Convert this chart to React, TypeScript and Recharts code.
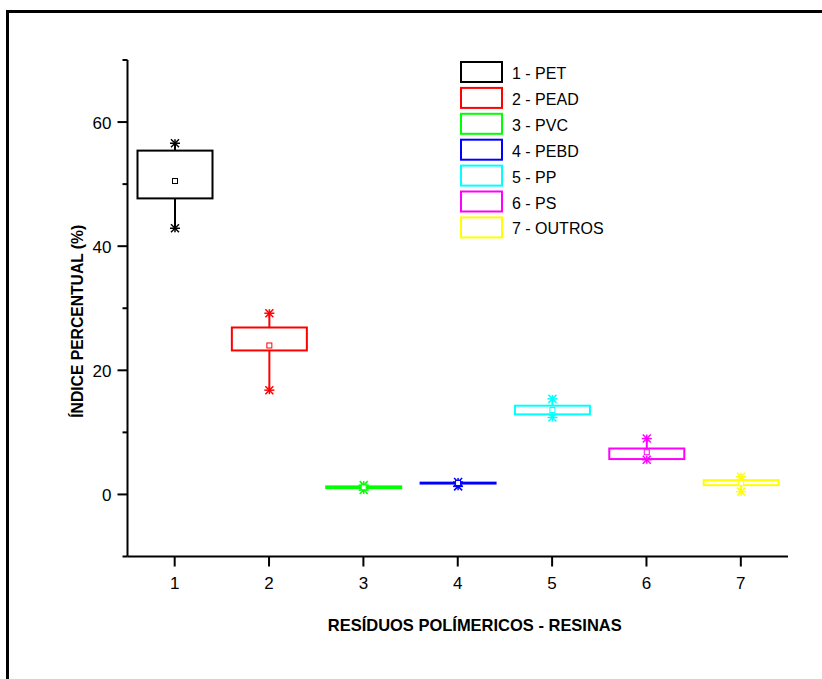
import { ComposedChart, Bar, XAxis, YAxis, Legend, Label } from "recharts";

// box plot statistics per resin class (percent)
const categories = ["1", "2", "3", "4", "5", "6", "7"];
const resinNames = ["1 - PET", "2 - PEAD", "3 - PVC", "4 - PEBD", "5 - PP", "6 - PS", "7 - OUTROS"];
const maxValues = [56.6, 29.2, 1.5, 2.0, 15.4, 9.0, 2.85];
const upperQuartiles = [55.4, 26.9, 1.3, 1.9, 14.3, 7.4, 2.3];
const meanValues = [50.5, 24.0, 1.15, 1.85, 13.6, 6.8, 1.8];
const lowerQuartiles = [47.7, 23.2, 1.0, 1.75, 12.9, 5.7, 1.5];
const minValues = [42.9, 16.8, 0.7, 1.3, 12.4, 5.6, 0.45];

const yTicks = [-10, 0, 10, 20, 30, 40, 50, 60, 70];
const yLabelled = [0, 20, 40, 60];

const colors = ["#000000", "#ff0000", "#00ff00", "#0000ff", "#00ffff", "#ff00ff", "#ffff00"];
const FONT = "'Liberation Sans', Arial, sans-serif";

const data = categories.map((cat, i) => ({
    cat,
    range: [minValues[i], maxValues[i]],
    q1: lowerQuartiles[i],
    q3: upperQuartiles[i],
    mean: meanValues[i],
}));

function Star({ cx, cy, color }: { cx: number, cy: number, color: string }) {
    return (
        <g stroke={color} strokeWidth={1.5}>
            <line x1={cx - 5} x2={cx + 5} y1={cy} y2={cy} />
            <line x1={cx - 4} x2={cx + 4} y1={cy - 4} y2={cy + 4} />
            <line x1={cx - 4} x2={cx + 4} y1={cy + 4} y2={cy - 4} />
            <line x1={cx} x2={cx} y1={cy - 4} y2={cy + 4} />
        </g>
    );
}

// the bar itself spans min..max, the rest is placed on that same scale
function BoxShape(props: any) {
    const { x, y, width, height, payload } = props;
    const color = colors[categories.indexOf(payload.cat)];
    const [lo, hi] = payload.range;
    const toPx = (v: number) => y + (height * (hi - v)) / (hi - lo);
    const cx = x + width / 2;
    const top = toPx(payload.q3);
    const bottom = toPx(payload.q1);
    const mean = toPx(payload.mean);
    const yMax = toPx(hi);
    const yMin = toPx(lo);
    return (
        <g>
            <line x1={cx} x2={cx} y1={yMax} y2={top} stroke={color} strokeWidth={2} />
            <line x1={cx} x2={cx} y1={bottom} y2={yMin} stroke={color} strokeWidth={2} />
            <rect x={x} y={top} width={width} height={bottom - top} fill="none" stroke={color} strokeWidth={2} />
            <Star cx={cx} cy={yMax} color={color} />
            <Star cx={cx} cy={yMin} color={color} />
            <rect x={cx - 2.5} y={mean - 2.5} width={5} height={5} fill="#fff" stroke={color} strokeWidth={1} />
        </g>
    );
}

function YTick(props: any) {
    const { x, y, payload } = props;
    const major = yLabelled.includes(payload.value);
    return (
        <g>
            <line x1={x} x2={x - (major ? 10 : 5)} y1={y} y2={y} stroke="#000" strokeWidth={2} />
            {major && (
                <text x={x - 16} y={y + 6.5} textAnchor="end" fontFamily={FONT} fontSize={17} fill="#000">
                    {payload.value}
                </text>
            )}
        </g>
    );
}

function XTick(props: any) {
    const { x, y, payload } = props;
    return (
        <g>
            <line x1={x} x2={x} y1={y} y2={y + 10} stroke="#000" strokeWidth={2} />
            <text x={x} y={y + 32.5} textAnchor="middle" fontFamily={FONT} fontSize={17} fill="#000">
                {payload.value}
            </text>
        </g>
    );
}

const renderLegend = () => (
    <svg width={170} height={190}>
        {resinNames.map((name, i) => (
            <g key={name}>
                <rect x={3} y={3 + i * 25.9} width={41} height={20} fill="none" stroke={colors[i]} strokeWidth={2} />
                <text x={54} y={20 + i * 25.9} fontFamily={FONT} fontSize={16} fill="#000">
                    {name}
                </text>
            </g>
        ))}
    </svg>
);

export default function App() {
    return (
        <div style={{ position: "absolute", left: 0, top: 0, width: 822, height: 679, overflow: "hidden", background: "#fff" }}>
            <div
                style={{
                    position: "absolute",
                    left: 6,
                    top: 10,
                    width: 900,
                    height: 800,
                    borderTop: "3px solid #000",
                    borderLeft: "3px solid #000",
                }}
            />
            <ComposedChart
                width={822}
                height={679}
                data={data}
                margin={{ top: 60, right: 34, bottom: 62.5, left: 67.5 }}
                style={{ position: "absolute", left: 0, top: 0 }}
            >
                <XAxis
                    dataKey="cat"
                    height={60}
                    interval={0}
                    tickSize={0}
                    tickMargin={0}
                    tickLine={false}
                    tick={<XTick />}
                    axisLine={{ stroke: "#000", strokeWidth: 2 }}
                >
                    <Label
                        content={({ viewBox }: any) => (
                            <text
                                x={viewBox.x + viewBox.width / 2 + 17}
                                y={viewBox.y + 74.5}
                                textAnchor="middle"
                                fontFamily={FONT}
                                fontWeight="bold"
                                fontSize={17}
                                textLength={294}
                                lengthAdjust="spacingAndGlyphs"
                                fill="#000"
                            >
                                RESÍDUOS POLÍMERICOS - RESINAS
                            </text>
                        )}
                    />
                </XAxis>
                <YAxis
                    width={60}
                    type="number"
                    domain={[-10, 70]}
                    ticks={yTicks}
                    interval={0}
                    allowDataOverflow
                    tickSize={0}
                    tickMargin={0}
                    tickLine={false}
                    tick={<YTick />}
                    axisLine={{ stroke: "#000", strokeWidth: 2 }}
                >
                    <Label
                        content={({ viewBox }: any) => (
                            <text
                                transform={`translate(${viewBox.x + 15.5}, ${viewBox.y + viewBox.height / 2 + 13}) rotate(-90)`}
                                textAnchor="middle"
                                fontFamily={FONT}
                                fontWeight="bold"
                                fontSize={17}
                                textLength={193}
                                lengthAdjust="spacingAndGlyphs"
                                fill="#000"
                            >
                                ÍNDICE PERCENTUAL (%)
                            </text>
                        )}
                    />
                </YAxis>
                <Legend
                    layout="vertical"
                    align="center"
                    verticalAlign="middle"
                    wrapperStyle={{ top: 59, left: 458, width: 170, height: 190 }}
                    content={renderLegend}
                />
                <Bar dataKey="range" barSize={75} shape={<BoxShape />} isAnimationActive={false} />
            </ComposedChart>
        </div>
    );
}
